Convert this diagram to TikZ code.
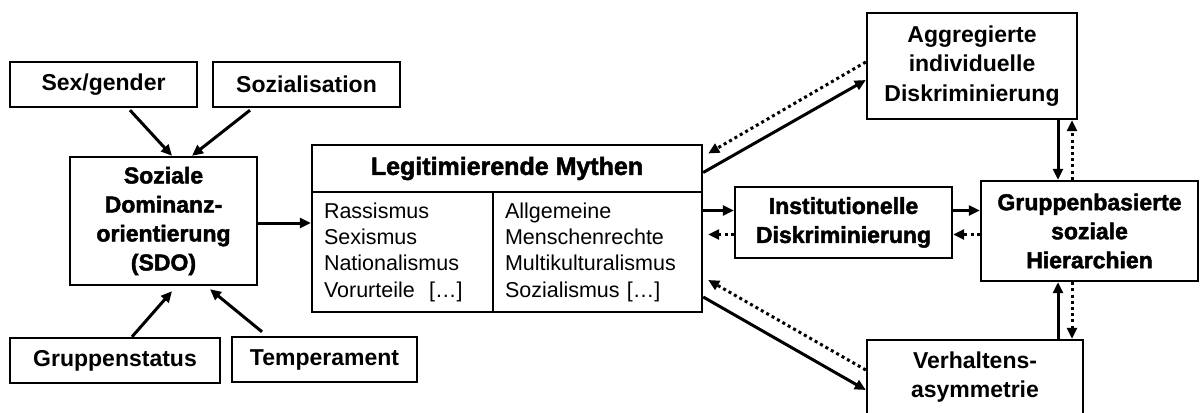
\documentclass[tikz,border=0pt]{standalone}
\usepackage{fontspec}
\setmainfont{Liberation Sans}
\newfontfamily\heavyfont{Liberation Sans}[BoldFeatures={FakeBold=2}]
\usetikzlibrary{arrows.meta}

\begin{document}
\begin{tikzpicture}[x=1pt, y=-1pt,
  box/.style={draw, line width=2.4pt, inner sep=0pt, align=center,
    font=\bfseries\fontsize{23}{29.5}\selectfont},
  heavybox/.style={box, font=\heavyfont\bfseries\fontsize{23}{29}\selectfont},
  listbox/.style={draw, line width=2.4pt, inner xsep=12pt, inner ysep=0pt,
    align=left, font=\fontsize{21.5}{26.3}\selectfont},
  link/.style={line width=3pt, -{Triangle[length=11pt,width=10pt]}},
  back/.style={link, dash pattern=on 3pt off 3.2pt}]

\clip (0,0) rectangle (1201,412);
\fill[white] (0,0) rectangle (1201,412);

% antecedents of SDO
\node[box, minimum width=187pt, minimum height=45pt] (sex) at (103.5,84.5) {Sex/gender};
\node[box, minimum width=187pt, minimum height=45pt] (sozi) at (306.5,84.5) {Sozialisation};
\node[heavybox, minimum width=187pt, minimum height=128pt] (sdo) at (163.5,221)
  {Soziale\\Dominanz-\\orientierung\\(SDO)};
\node[box, minimum width=210pt, minimum height=45pt] (status) at (115,360.5) {Gruppenstatus};
\node[box, minimum width=185pt, minimum height=45pt] (temp) at (324.5,359.5) {Temperament};

% legitimizing myths
\node[heavybox, font=\heavyfont\bfseries\fontsize{25}{29}\selectfont,
  minimum width=390pt, minimum height=47pt] (myth) at (507,168.5) {Legitimierende Mythen};
\node[listbox, text width=157pt, minimum height=120pt] (enh) at (402.5,252)
  {Rassismus\\Sexismus\\Nationalismus\\Vorurteile\ \ […]};
\node[listbox, text width=185pt, minimum height=120pt] (att) at (597.5,252)
  {Allgemeine\\Menschenrechte\\Multikulturalismus\\Sozialismus […]};

% consequences
\node[box, minimum width=210pt, minimum height=106pt] (aggr) at (972,66)
  {Aggregierte\\individuelle\\Diskriminierung};
\node[heavybox, minimum width=217pt, minimum height=71pt] (inst) at (843.5,222.5)
  {Institutionelle\\Diskriminierung};
\node[heavybox, minimum width=217pt, minimum height=100pt] (hier) at (1089.5,231)
  {Gruppenbasierte\\soziale\\Hierarchien};
\node[box, minimum width=216pt, minimum height=74pt] (verh) at (975,377)
  {Verhaltens-\\asymmetrie};

% arrows into SDO
\draw[link] ([xshift=26.5pt,yshift=-2pt]sex.south) -- ([xshift=8.5pt]sdo.north);
\draw[link] ([xshift=-56.5pt,yshift=-2pt]sozi.south) -- ([xshift=28.5pt]sdo.north);
\draw[link] ([xshift=17pt]status.north) -- ([xshift=8.5pt,yshift=-5pt]sdo.south);
\draw[link] ([xshift=-62.5pt,yshift=4pt]temp.north) -- ([xshift=46.5pt,yshift=-3pt]sdo.south);
\draw[link] ([yshift=-2pt]sdo.east) -- ([yshift=-2pt]sdo.east -| enh.west);

% myths to discrimination
\draw[link] ([yshift=-4pt]myth.east) -- ([yshift=-14pt]aggr.west);
\draw[back] ([yshift=4pt]aggr.west) -- ([xshift=5pt,yshift=15pt]myth.east);
\draw[link] ([yshift=12pt]inst.west -| att.east) -- ([yshift=12pt]inst.west);
\draw[back] ([yshift=-12pt]inst.west) -- ([xshift=5pt,yshift=-12pt]inst.west -| att.east);
\draw[link] ([yshift=-45pt]att.east) -- ([yshift=-13pt]verh.west);
\draw[back] ([yshift=7pt]verh.west) -- ([xshift=5pt,yshift=-28pt]att.east);

% discrimination to hierarchies
\draw[link] ([yshift=12pt]inst.east) -- ([yshift=12pt]inst.east -| hier.west);
\draw[back] ([yshift=-12pt]inst.east -| hier.west) -- ([yshift=-12pt]inst.east);
\draw[link] ([xshift=-31.5pt]hier.north |- aggr.south) -- ([xshift=-31.5pt]hier.north);
\draw[back] ([xshift=-17.5pt]hier.north) -- ([xshift=-17.5pt]hier.north |- aggr.south);
\draw[link] ([xshift=-31.5pt]hier.south |- verh.north) -- ([xshift=-31.5pt]hier.south);
\draw[back] ([xshift=-17.5pt]hier.south) -- ([xshift=-17.5pt]hier.south |- verh.north);
\end{tikzpicture}
\end{document}
